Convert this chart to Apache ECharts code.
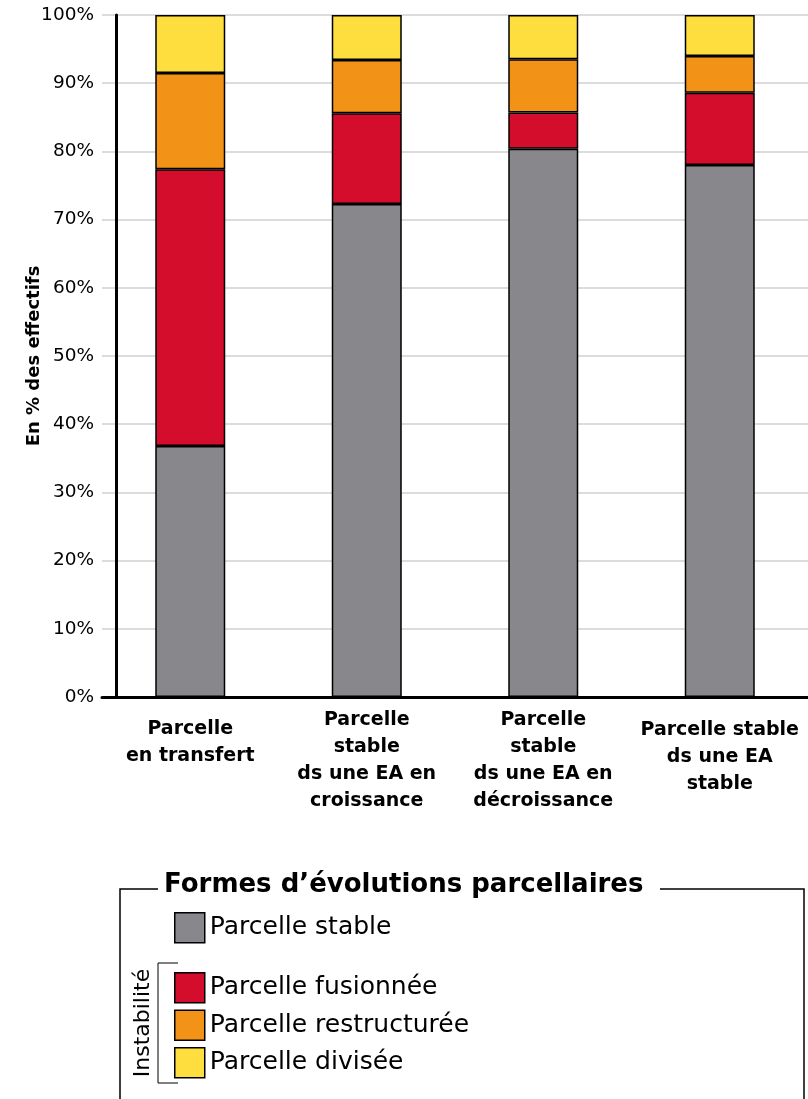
<!DOCTYPE html>
<html>
<head>
<meta charset="utf-8">
<script src="https://cdn.jsdelivr.net/npm/echarts@6/dist/echarts.min.js"></script>
<style>
  html, body { margin: 0; padding: 0; background: #fff; }
  #chart { width: 808px; height: 1099px; }
</style>
</head>
<body>
<div id="chart"></div>
<script>
// categories and per-label top offset (px) to mimic the original label placement
const categories = [
    'Parcelle\nen transfert',
    'Parcelle\nstable\nds une EA en\ncroissance',
    'Parcelle\nstable\nds une EA en\ndécroissance',
    'Parcelle stable\nds une EA\nstable'
];
const labelShift = [9, 0, 0, 10];

// shares in % of the total
const stableValues = [36.8, 72.3, 80.4, 78.0];
const fusionValues = [40.6, 13.3, 5.3, 10.6];
const restructValues = [14.1, 7.8, 7.8, 5.4];
const diviseValues = [8.5, 6.6, 6.5, 6.0];

const seriesNames = ['Parcelle stable', 'Parcelle fusionnée', 'Parcelle restructurée', 'Parcelle divisée'];
const seriesColors = ['#88888c', '#d30d2b', '#f29318', '#fedd3f'];

const FONT = '"DejaVu Sans", sans-serif';

const chart = echarts.init(document.getElementById('chart'), null, { renderer: 'canvas' });

function makeBar(i, data) {
    return {
        name: seriesNames[i],
        type: 'bar',
        stack: 'total',
        barWidth: 70,
        data: data,
        itemStyle: { color: seriesColors[i], borderColor: '#000', borderWidth: 1.5 },
        emphasis: { disabled: true }
    };
}

const option = {
    backgroundColor: '#fff',
    animation: false,
    textStyle: { fontFamily: FONT },
    title: {
        text: 'Formes d’évolutions parcellaires',
        left: 164,
        top: 872,
        padding: 0,
        textStyle: { fontFamily: FONT, fontSize: 26, fontWeight: 'bold', color: '#000' }
    },
    grid: { left: 102, right: -2, top: 15, bottom: 402, containLabel: false },
    xAxis: {
        type: 'category',
        data: categories.map((c, i) => ({ value: c, textStyle: { padding: [labelShift[i], 0, 0, 0] } })),
        axisLine: { lineStyle: { color: '#000', width: 3 } },
        axisTick: { show: false },
        axisLabel: {
            interval: 0,
            margin: 10,
            color: '#000',
            fontFamily: FONT,
            fontSize: 19,
            fontWeight: 'bold',
            lineHeight: 27,
            verticalAlign: 'top'
        }
    },
    yAxis: {
        type: 'value',
        min: 0,
        max: 100,
        interval: 10,
        offset: -14,
        name: 'En % des effectifs',
        nameLocation: 'middle',
        nameRotate: 90,
        nameGap: 73,
        nameMoveOverlap: false,
        nameTextStyle: { fontFamily: FONT, fontSize: 18, fontWeight: 'bold', color: '#000' },
        axisLine: { show: true, lineStyle: { color: '#000', width: 3 } },
        axisTick: { show: false },
        axisLabel: { formatter: '{value}%', margin: 22, color: '#000', fontFamily: FONT, fontSize: 18.5 },
        splitLine: { lineStyle: { color: '#dcdcdc', width: 2 } }
    },
    legend: [
        {
            data: [seriesNames[0]],
            left: 174,
            top: 912,
            padding: 0,
            icon: 'rect',
            itemWidth: 30,
            itemHeight: 30,
            selectedMode: false,
            itemStyle: { borderColor: '#000', borderWidth: 1.5 },
            textStyle: { fontFamily: FONT, fontSize: 25, color: '#000' }
        },
        {
            data: seriesNames.slice(1),
            orient: 'vertical',
            left: 174,
            top: 972,
            padding: 0,
            itemGap: 6,
            icon: 'rect',
            itemWidth: 30,
            itemHeight: 30,
            selectedMode: false,
            itemStyle: { borderColor: '#000', borderWidth: 1.5 },
            textStyle: { fontFamily: FONT, fontSize: 25, color: '#000' }
        }
    ],
    graphic: [
        // legend frame
        { type: 'polyline', silent: true, shape: { points: [[158, 889], [120, 889], [120, 1099]] }, style: { stroke: '#000', lineWidth: 1.5, fill: null } },
        { type: 'polyline', silent: true, shape: { points: [[660, 889], [804, 889], [804, 1099]] }, style: { stroke: '#000', lineWidth: 1.5, fill: null } },
        // "Instabilité" bracket
        { type: 'polyline', silent: true, shape: { points: [[178, 963], [158, 963], [158, 1083], [178, 1083]] }, style: { stroke: '#000', lineWidth: 1, fill: null } },
        {
            type: 'text',
            silent: true,
            x: 143,
            y: 1023,
            rotation: Math.PI / 2,
            style: { text: 'Instabilité', font: '22px ' + FONT, fill: '#000', align: 'center', verticalAlign: 'middle' }
        }
    ],
    series: [
        makeBar(0, stableValues),
        makeBar(1, fusionValues),
        makeBar(2, restructValues),
        makeBar(3, diviseValues)
    ]
};

chart.setOption(option);
</script>
</body>
</html>
